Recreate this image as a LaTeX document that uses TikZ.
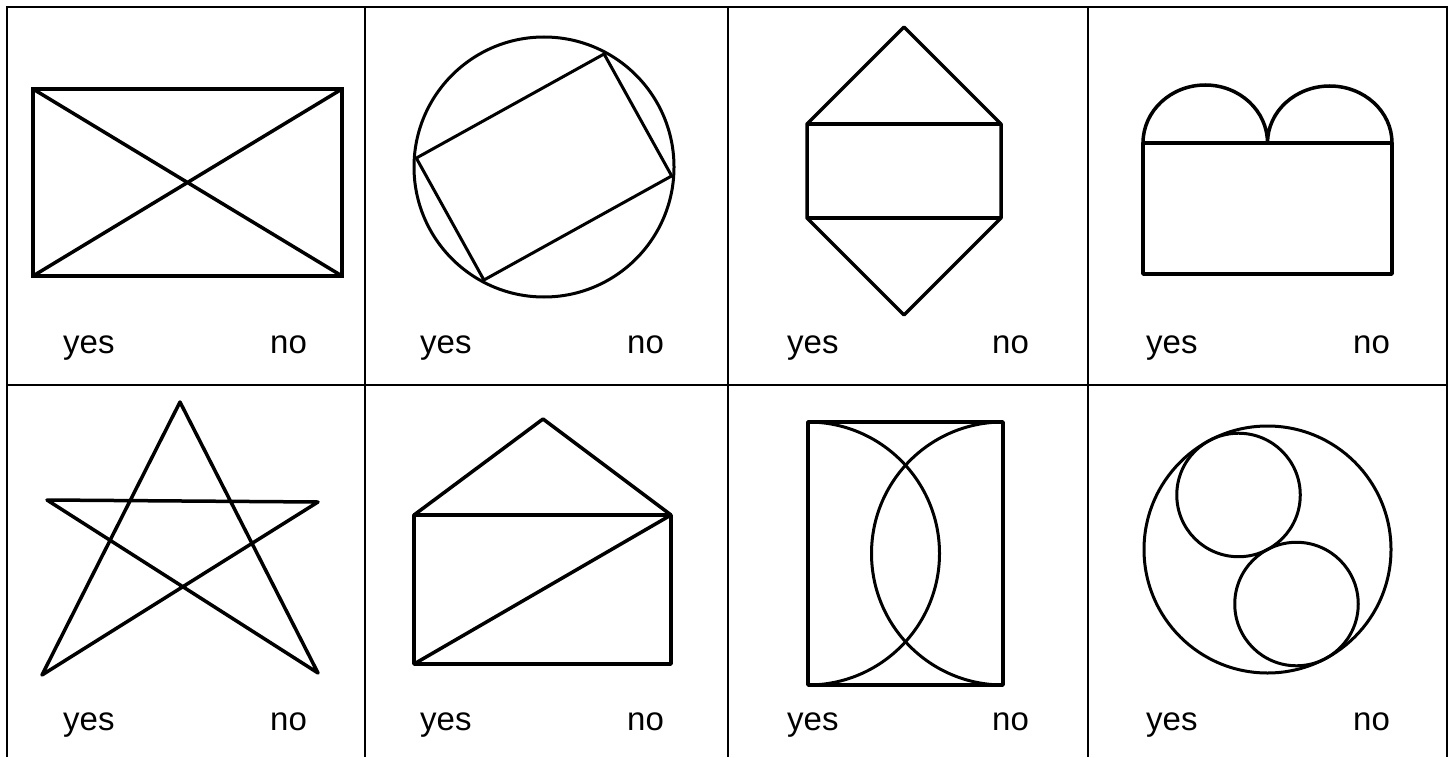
\documentclass[tikz,border=0pt]{standalone}
\usepackage{fontspec}
\setmainfont{Liberation Sans}
\usepackage{tikz}
\usetikzlibrary{calc}

\begin{document}
\begin{tikzpicture}[x=1pt,y=-1pt,
  gridline/.style={line width=2.2pt},
  figline/.style={line width=3.5pt,line join=round},
  roundline/.style={line width=3pt},
  answer/.style={anchor=base west,inner sep=0pt,font=\fontsize{33}{40}\selectfont}]
\useasboundingbox (0,0) rectangle (1455,757);
\fill[white] (0,0) rectangle (1455,757);
% table
\draw[gridline] (7,757) -- (7,7) -- (1447,7) -- (1447,757);
\draw[gridline] (7,385) -- (1447,385);
\foreach \xv in {365,728,1088}
  \draw[gridline] (\xv,7) -- (\xv,757);
% answers
\foreach \xa/\xb/\yb [count=\i] in {63/270/353,420/627/353,787/992/353,1146/1353/353,
                                    63/270/730,420/627/730,787/992/730,1146/1353/730}{
  \node[answer] (yes\i) at (\xa,\yb) {yes};
  \node[answer] (no\i) at (\xb,\yb) {no};
}
% row 1
\draw[figline,line width=4pt,line join=miter] (33,89) rectangle (342,276);
\draw[figline] (33,89) -- (342,276) (33,276) -- (342,89);
\coordinate (c2) at (544,167);
\draw[roundline] (c2) circle[radius=130pt];
\draw[roundline] ($(c2)+(176:128pt)$) -- ($(c2)+(62:128pt)$) -- ($(c2)+(-4:128pt)$) -- ($(c2)+(-118:128pt)$) -- cycle;
\draw[figline] (904,27) -- (1001,124) -- (1001,218) -- (904,315) -- (807,218) -- (807,124) -- cycle;
\draw[figline] (807,124) -- (1001,124) (807,218) -- (1001,218);
\draw[figline] (1143,143) rectangle (1392,274);
\draw[figline] (1143,143) arc[start angle=180,end angle=0,x radius=62.25pt,y radius=58pt]
  arc[start angle=180,end angle=0,x radius=62.25pt,y radius=57pt];
% row 2
\draw[figline] (180,402) -- (42,675) -- (318,502) -- (47,500) -- (318,673) -- cycle;
\draw[figline] (414,515) rectangle (671,664);
\draw[figline] (414,515) -- (543,419) -- (671,515);
\draw[figline] (414,664) -- (671,515);
\draw[figline] (808,422) rectangle (1003,685);
\draw[roundline] (808,422) arc[start angle=90,end angle=-90,radius=131.5pt];
\draw[roundline] (1003,422) arc[start angle=90,end angle=270,radius=131.5pt];
\coordinate (c8) at (1267.5,549.5);
\draw[roundline] (c8) circle[radius=123.5pt];
\draw[roundline] ($(c8)+(118:61.75pt)$) circle[radius=61.75pt];
\draw[roundline] ($(c8)+(-62:61.75pt)$) circle[radius=61.75pt];
\end{tikzpicture}
\end{document}
